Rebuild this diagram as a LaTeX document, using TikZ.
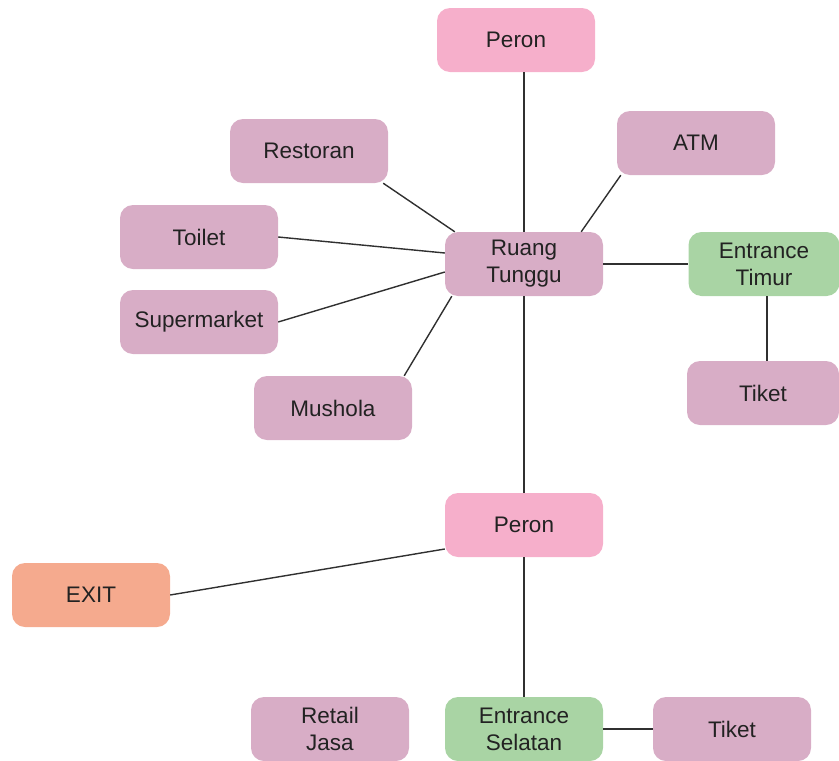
\documentclass[tikz,border=0pt]{standalone}
\usepackage{fontspec}
\setmainfont{Liberation Sans}
\definecolor{pinkA}{HTML}{F6AFCB}
\definecolor{mauve}{HTML}{D8ADC6}
\definecolor{greenA}{HTML}{A9D4A4}
\definecolor{salmon}{HTML}{F5AA8E}
\definecolor{txt}{HTML}{222222}
\definecolor{ln}{HTML}{303030}
\begin{document}
\begin{tikzpicture}[x=1pt,y=-1pt,
  box/.style={rounded corners=13pt, minimum width=158pt, minimum height=64pt, inner sep=0pt,
    text=txt, font=\fontsize{22.5}{27}\selectfont, align=center},
  pbox/.style={box, fill=pinkA},
  mbox/.style={box, fill=mauve},
  gbox/.style={box, fill=greenA},
  ebox/.style={box, fill=salmon},
  conn/.style={draw=ln, line width=1.4pt}]
\useasboundingbox (0,0) rectangle (839,761);
\node[pbox] (peron1) at (516,40) {Peron};
\node[mbox] (restoran) at (309,151) {Restoran};
\node[mbox] (atm) at (696,143) {ATM};
\node[mbox] (toilet) at (199,237) {Toilet};
\node[mbox] (rt) at (524,264) {Ruang\\Tunggu};
\node[gbox, minimum width=151pt] (et) at (764,264) {Entrance\\Timur};
\node[mbox] (super) at (199,322) {Supermarket};
\node[mbox] (mushola) at (333,408) {Mushola};
\node[mbox, minimum width=152pt] (tiket1) at (763,393) {Tiket};
\node[pbox] (peron2) at (524,525) {Peron};
\node[ebox] (exit) at (91,595) {EXIT};
\node[mbox] (retail) at (330,729) {Retail\\Jasa};
\node[gbox] (es) at (524,729) {Entrance\\Selatan};
\node[mbox] (tiket2) at (732,729) {Tiket};
% connectors
\draw[conn] (rt.north) -- (rt.north |- peron1.south);
\draw[conn] ([xshift=-5pt]restoran.south east) -- ([xshift=10pt]rt.north west);
\draw[conn] (toilet.east) -- ([yshift=11pt]rt.west);
\draw[conn] (super.east) -- ([yshift=-8pt]rt.west);
\draw[conn] ([xshift=-8pt]mushola.north east) -- ([xshift=7pt]rt.south west);
\draw[conn] ([xshift=4pt]atm.south west) -- ([xshift=-22pt]rt.north east);
\draw[conn] (rt.east) -- (et.west);
\draw[conn] ([xshift=3pt]et.south) -- ([xshift=4pt]tiket1.north);
\draw[conn] (rt.south) -- (peron2.north);
\draw[conn] ([yshift=-24pt]peron2.west) -- (exit.east);
\draw[conn] (peron2.south) -- (es.north);
\draw[conn] (es.east) -- (tiket2.west);
\end{tikzpicture}
\end{document}
